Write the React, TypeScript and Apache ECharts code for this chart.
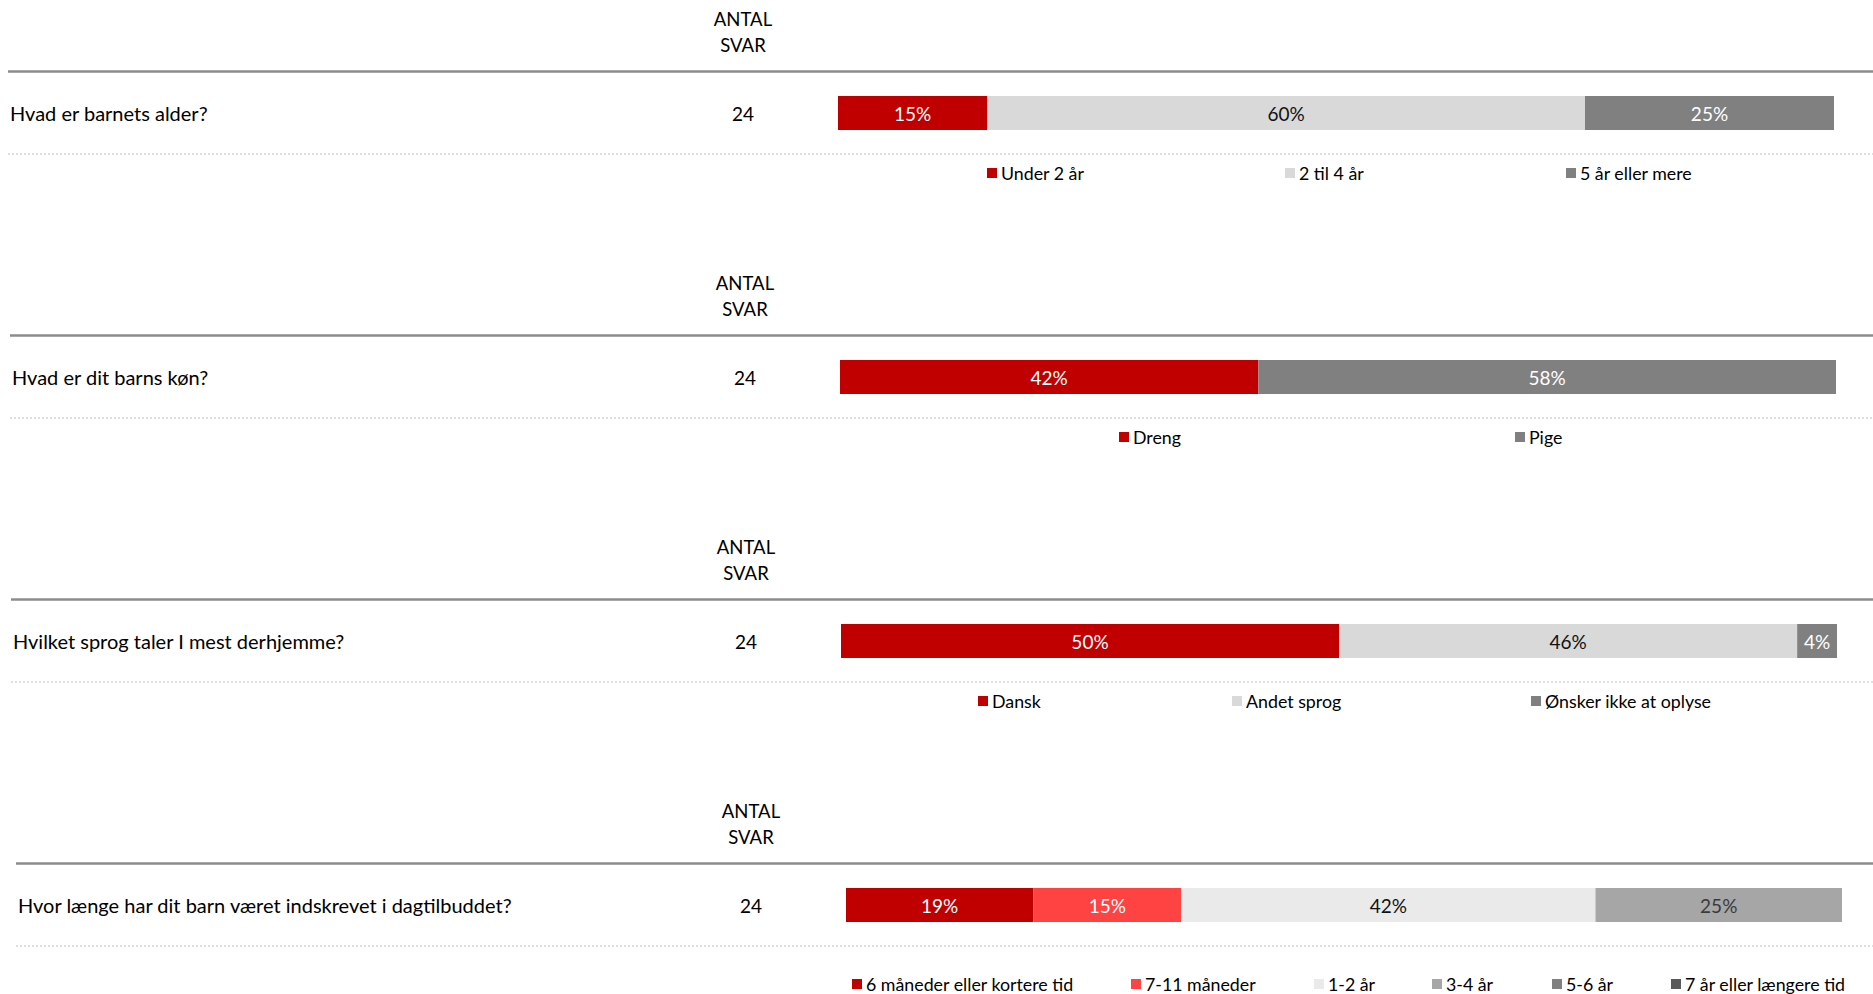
import React, { useEffect, useRef } from "react";
import * as echarts from "echarts";

// ---------- DATA ----------
const questions = [
  "Hvad er barnets alder?",
  "Hvad er dit barns køn?",
  "Hvilket sprog taler I mest derhjemme?",
  "Hvor længe har dit barn været indskrevet i dagtilbuddet?",
];
const antalSvar = [24, 24, 24, 24];
const headerLabel = "ANTAL\nSVAR";

const q1Categories = ["Under 2 år", "2 til 4 år", "5 år eller mere"];
const q1Values = [15, 60, 25];

const q2Categories = ["Dreng", "Pige"];
const q2Values = [42, 58];

const q3Categories = ["Dansk", "Andet sprog", "Ønsker ikke at oplyse"];
const q3Values = [50, 46, 4];

const q4Categories = [
  "6 måneder eller kortere tid",
  "7-11 måneder",
  "1-2 år",
  "3-4 år",
  "5-6 år",
  "7 år eller længere tid",
];
const q4Values = [19, 15, 42, 25, 0, 0];

// ---------- STYLE / LAYOUT ----------
const FONT = "Lato, 'Open Sans', sans-serif";
const panelCats = [q1Categories, q2Categories, q3Categories, q4Categories];
const panelVals = [q1Values, q2Values, q3Values, q4Values];
const panelColors = [
  ["#C00000", "#D9D9D9", "#808080"],
  ["#C00000", "#808080"],
  ["#C00000", "#D9D9D9", "#808080"],
  ["#C00000", "#FF4343", "#EAEAEA", "#A6A6A6", "#808080", "#595959"],
];
const panelLabelColors = [
  ["#FFFFFF", "#111111", "#FFFFFF"],
  ["#FFFFFF", "#FFFFFF"],
  ["#FFFFFF", "#111111", "#FFFFFF"],
  ["#FFFFFF", "#FFFFFF", "#111111", "#3A3A3A", "#FFFFFF", "#FFFFFF"],
];
const panelDx = [0, 2, 3, 8];
const panelStep = 264;
const legendX = [
  [987, 1285, 1566],
  [1119, 1515],
  [978, 1232, 1531],
  [852, 1131, 1314, 1432, 1552, 1671],
];
const legendY = [173, 437, 701, 984];

const W = 1873;
const H = 994;

function buildOption() {
  const grid: any[] = [];
  const xAxis: any[] = [];
  const yAxis: any[] = [];
  const series: any[] = [];
  const legend: any[] = [];
  const graphic: any[] = [];

  questions.forEach((q, i) => {
    const dx = panelDx[i];
    const base = panelStep * i;
    const total = panelVals[i].reduce((a, b) => a + b, 0);
    grid.push({ left: 838 + dx, top: 96 + base, width: 996, height: 34 });
    xAxis.push({ type: "value", gridIndex: i, min: 0, max: total, show: false });
    yAxis.push({ type: "category", gridIndex: i, data: [q], show: false });

    panelCats[i].forEach((name, j) => {
      series.push({
        type: "bar",
        name,
        stack: "p" + i,
        xAxisIndex: i,
        yAxisIndex: i,
        barWidth: "100%",
        data: [panelVals[i][j]],
        itemStyle: { color: panelColors[i][j] },
        emphasis: { disabled: true },
        label: {
          show: true,
          position: "inside",
          formatter: (p: any) => (p.value ? p.value + "%" : ""),
          color: panelLabelColors[i][j],
          fontFamily: FONT,
          fontSize: 19,
        },
      });
      legend.push({
        data: [name],
        left: legendX[i][j],
        top: legendY[i] - 10,
        padding: 0,
        itemWidth: 10,
        itemHeight: 10,
        itemGap: 0,
        icon: "rect",
        selectedMode: false,
        textStyle: {
          fontFamily: FONT,
          fontSize: 17.8,
          color: "#000",
          lineHeight: 20,
          padding: [0, 0, 0, -1],
        },
      });
    });

    graphic.push(
      {
        type: "text",
        x: 743 + dx,
        y: 32 + base,
        style: {
          text: headerLabel,
          fill: "#000",
          fontFamily: FONT,
          fontSize: 18.5,
          lineHeight: 26,
          textAlign: "center",
          textVerticalAlign: "middle",
        },
      },
      {
        type: "line",
        shape: { x1: 8 + dx, y1: 71.5 + base, x2: W, y2: 71.5 + base },
        style: { stroke: "#8C8C8C", lineWidth: 2.5 },
      },
      {
        type: "text",
        x: 10 + dx,
        y: 113 + base,
        style: {
          text: q,
          fill: "#000",
          fontFamily: FONT,
          fontSize: 20,
          textAlign: "left",
          textVerticalAlign: "middle",
        },
      },
      {
        type: "text",
        x: 743 + dx,
        y: 113 + base,
        style: {
          text: String(antalSvar[i]),
          fill: "#000",
          fontFamily: FONT,
          fontSize: 19,
          textAlign: "center",
          textVerticalAlign: "middle",
        },
      },
      {
        type: "line",
        shape: { x1: 8 + dx, y1: 154 + base, x2: W, y2: 154 + base },
        style: { stroke: "#BFBFBF", lineWidth: 1.2, lineDash: [2, 2] },
      }
    );
  });

  return {
    animation: false,
    backgroundColor: "#FFFFFF",
    grid,
    xAxis,
    yAxis,
    series,
    legend,
    graphic,
    tooltip: { show: false },
  };
}

export default function App() {
  const ref = useRef<HTMLDivElement>(null);
  useEffect(() => {
    document.body.style.margin = "0";
    if (!ref.current) return;
    const chart = echarts.init(ref.current, null, { renderer: "svg", width: W, height: H });
    chart.setOption(buildOption() as any);
    return () => chart.dispose();
  }, []);
  return (
    <div
      ref={ref}
      style={{ position: "absolute", left: 0, top: 0, width: W, height: H }}
    />
  );
}
